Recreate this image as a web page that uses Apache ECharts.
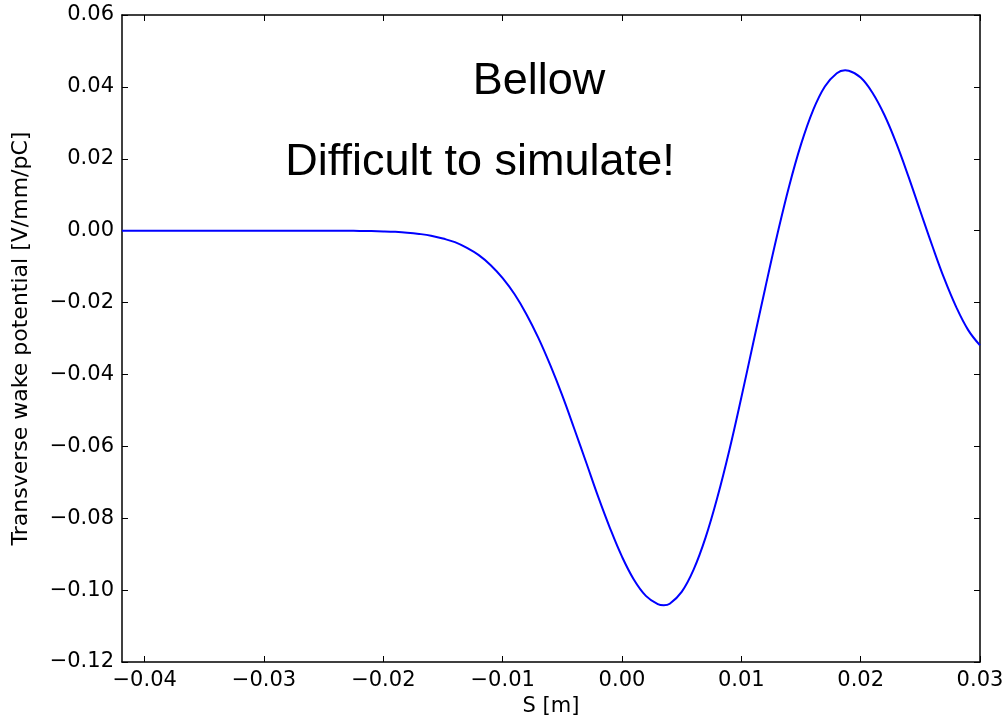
<!DOCTYPE html>
<html>
<head>
<meta charset="utf-8">
<script src="https://cdn.jsdelivr.net/npm/echarts@6/dist/echarts.min.js"></script>
<style>
html,body{margin:0;padding:0;background:#fff;}
#chart{width:1007px;height:722px;}
</style>
</head>
<body>
<div id="chart"></div>
<script>
// Data
var sValues = [-0.0419, -0.040, -0.038, -0.036, -0.034, -0.032, -0.030, -0.028, -0.026, -0.024,
  -0.023, -0.022, -0.021, -0.020, -0.019, -0.018, -0.017, -0.016, -0.015, -0.014,
  -0.013, -0.012, -0.011, -0.010, -0.009, -0.008, -0.007, -0.006, -0.005, -0.004,
  -0.003, -0.002, -0.001, 0.000, 0.001, 0.002, 0.003, 0.0035, 0.004, 0.005,
  0.006, 0.007, 0.008, 0.009, 0.010, 0.011, 0.012, 0.013, 0.014, 0.015,
  0.016, 0.017, 0.018, 0.0187, 0.019, 0.020, 0.021, 0.022, 0.023, 0.024,
  0.025, 0.026, 0.027, 0.028, 0.029, 0.030];
var wakeValues = [0, 0, 0, 0, 0, 0, 0, 0, -0.00001, -0.00002,
  -0.00004, -0.00007, -0.00012, -0.0002, -0.00033, -0.00055, -0.0009, -0.0014, -0.0022, -0.0032,
  -0.0048, -0.0068, -0.0096, -0.0132, -0.0177, -0.0233, -0.0299, -0.0375, -0.0459, -0.0551,
  -0.0645, -0.0740, -0.0828, -0.0907, -0.0971, -0.1016, -0.1039, -0.1042, -0.1038, -0.1005,
  -0.0943, -0.0854, -0.0741, -0.0610, -0.0464, -0.0312, -0.0160, -0.0013, 0.0123, 0.0240,
  0.0334, 0.0401, 0.0438, 0.0446, 0.0445, 0.0426, 0.0383, 0.0321, 0.0242, 0.0151,
  0.0054, -0.0042, -0.0133, -0.0212, -0.0276, -0.0319];
var xTicks = [-0.04, -0.03, -0.02, -0.01, 0.00, 0.01, 0.02, 0.03];
var yTicks = [-0.12, -0.10, -0.08, -0.06, -0.04, -0.02, 0.00, 0.02, 0.04, 0.06];
var xTitle = 'S [m]';
var yTitle = 'Transverse wake potential [V/mm/pC]';
var notes = ['Bellow', 'Difficult to simulate!'];

var pairs = sValues.map(function (s, i) { return [s, wakeValues[i]]; });
function fmt(v) {
  var t = Math.abs(v).toFixed(2);
  return (v < -1e-9 ? '\u2212' : '') + t;
}
var FONT = 'DejaVu Sans';
var lineStyle = {color: '#000', width: 1.5};
function mkAxis(base, main, ticks, pos) {
  return Object.assign({
    type: 'value',
    position: pos,
    axisLine: {show: true, onZero: false, lineStyle: lineStyle},
    axisTick: {show: true, inside: true, length: 6, customValues: ticks, lineStyle: {color: '#000', width: 1}},
    axisLabel: {show: main, customValues: ticks, formatter: fmt, color: '#000',
      fontFamily: FONT, fontSize: 21, margin: 8},
    splitLine: {show: false}
  }, base);
}
var chart = echarts.init(document.getElementById('chart'), null, {renderer: 'canvas'});
chart.setOption({
  backgroundColor: '#fff',
  animation: false,
  grid: {left: 122, right: 27, top: 15, bottom: 57, containLabel: false},
  xAxis: [
    mkAxis({min: -0.0419, max: 0.03, name: xTitle, nameLocation: 'middle', nameGap: 34,
      nameTextStyle: {fontFamily: FONT, fontSize: 21, color: '#000'}}, true, xTicks, 'bottom'),
    mkAxis({min: -0.0419, max: 0.03}, false, xTicks, 'top')
  ],
  yAxis: [
    mkAxis({min: -0.12, max: 0.06, name: yTitle, nameLocation: 'middle', nameGap: 90,
      nameTextStyle: {fontFamily: FONT, fontSize: 22, color: '#000'}}, true, yTicks, 'left'),
    mkAxis({min: -0.12, max: 0.06}, false, yTicks, 'right')
  ],
  series: [{
    type: 'line',
    data: pairs,
    xAxisIndex: 0,
    yAxisIndex: 0,
    showSymbol: false,
    smooth: 0.4,
    clip: true,
    lineStyle: {color: '#0000ff', width: 2}
  }],
  graphic: [
    {type: 'text', style: {text: notes[0], x: 539, y: 82, align: 'center', verticalAlign: 'middle',
      font: '45px "Liberation Sans", Arial, sans-serif', fill: '#000'}},
    {type: 'text', style: {text: notes[1], x: 480, y: 163, align: 'center', verticalAlign: 'middle',
      font: '45px "Liberation Sans", Arial, sans-serif', fill: '#000'}}
  ]
});
</script>
</body>
</html>
